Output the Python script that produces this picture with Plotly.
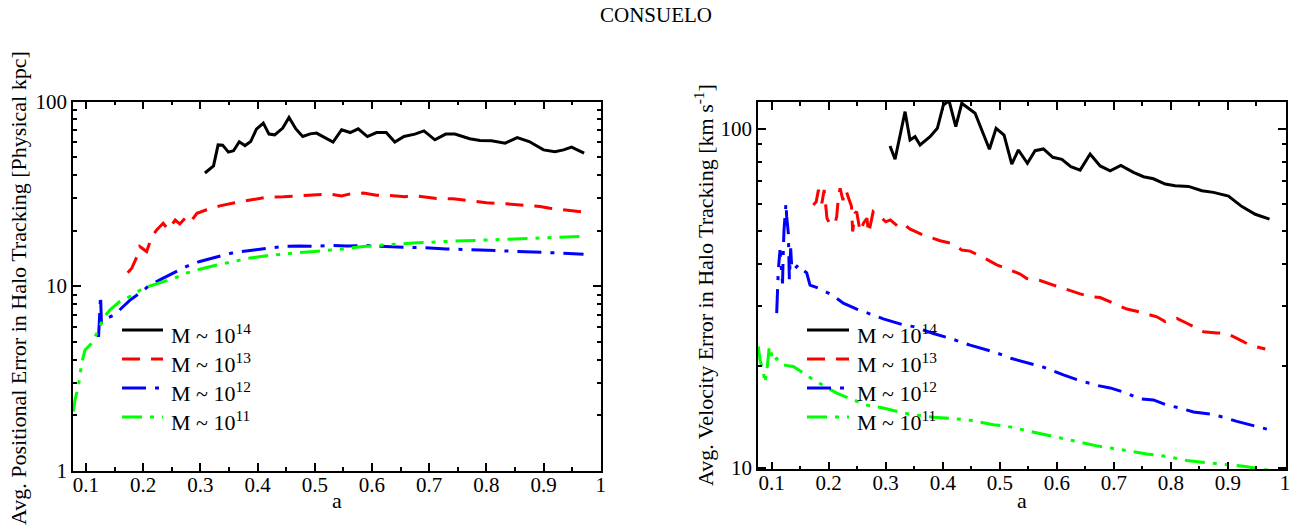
import plotly.graph_objects as go

# ---------------- data ----------------
# Left panel: positional error [physical kpc]
a_pos_14 = [0.308, 0.323, 0.331, 0.339, 0.349, 0.358, 0.368, 0.378, 0.388, 0.398, 0.410, 0.420, 0.430, 0.444, 0.455,
            0.467, 0.479, 0.492, 0.503, 0.518, 0.532, 0.547, 0.562, 0.576, 0.592, 0.608, 0.625, 0.640, 0.656, 0.675,
            0.691, 0.710, 0.729, 0.745, 0.771, 0.789, 0.809, 0.833, 0.854, 0.875, 0.900, 0.920, 0.935, 0.949, 0.971]
pos_14 = [41.0, 44.8, 58.2, 58.0, 53.2, 54.1, 60.5, 57.7, 60.7, 70.9, 76.4, 66.6, 66.0, 71.8, 81.9,
          71.0, 64.6, 66.8, 67.4, 63.8, 60.3, 70.3, 67.9, 71.1, 64.6, 67.9, 67.9, 60.3, 64.6, 66.6,
          69.3, 62.0, 66.6, 66.6, 62.8, 61.5, 61.3, 59.5, 63.8, 60.7, 54.7, 53.5, 54.7, 56.6, 52.5]

a_pos_13 = [0.173, 0.180, 0.189, 0.194, 0.206, 0.215, 0.224, 0.235, 0.244, 0.256, 0.264, 0.273, 0.282, 0.294, 0.311,
            0.334, 0.358, 0.387, 0.416, 0.445, 0.474, 0.492, 0.509, 0.527, 0.547, 0.562, 0.585, 0.608, 0.637, 0.658,
            0.672, 0.693, 0.713, 0.742, 0.771, 0.800, 0.835, 0.859, 0.894, 0.911, 0.929, 0.946, 0.970]
pos_13 = [11.8, 12.5, 14.4, 16.4, 15.4, 18.5, 20.2, 21.9, 20.2, 22.8, 21.7, 23.3, 22.1, 24.8, 25.9,
          27.2, 28.2, 29.3, 30.3, 30.5, 30.8, 31.2, 31.2, 31.5, 30.8, 31.6, 31.9, 31.1, 30.9, 30.5,
          30.9, 30.3, 29.8, 29.7, 28.9, 28.3, 27.9, 27.5, 27.0, 26.4, 26.1, 25.7, 25.2]

a_pos_12 = [0.122, 0.124, 0.1255, 0.127, 0.133, 0.150, 0.165, 0.177, 0.194, 0.212, 0.229, 0.253, 0.276, 0.299, 0.329,
            0.358, 0.387, 0.416, 0.445, 0.474, 0.498, 0.527, 0.556, 0.585, 0.614, 0.655, 0.701, 0.730, 0.789, 0.847,
            0.906, 0.970]
pos_12 = [5.3, 7.0, 8.9, 6.3, 6.6, 7.0, 7.75, 8.4, 9.15, 10.15, 10.8, 11.8, 12.8, 13.6, 14.45,
          15.2, 15.6, 16.05, 16.4, 16.5, 16.4, 16.6, 16.5, 16.6, 16.4, 16.25, 16.1, 15.9, 15.7, 15.5,
          15.2, 14.9]

a_pos_11 = [0.0778, 0.0808, 0.0866, 0.0895, 0.0925, 0.0983, 0.110, 0.1157, 0.1245, 0.130, 0.142, 0.159, 0.177, 0.182,
            0.200, 0.229, 0.253, 0.276, 0.299, 0.329, 0.358, 0.387, 0.416, 0.445, 0.474, 0.500, 0.527, 0.544,
            0.585, 0.632, 0.672, 0.719, 0.766, 0.812, 0.859, 0.905, 0.964]
pos_11 = [2.09, 2.42, 2.85, 3.3, 3.82, 4.51, 4.9, 5.3, 6.03, 6.7, 7.43, 8.24, 8.85, 8.96,
          9.75, 10.4, 11.0, 11.75, 12.35, 13.0, 13.6, 14.2, 14.6, 14.95, 15.2, 15.4, 15.6, 15.85,
          16.4, 16.8, 17.1, 17.4, 17.6, 17.9, 18.1, 18.25, 18.55]

# Right panel: velocity error [km/s]
a_vel_14 = [0.3075, 0.3163, 0.3339, 0.3426, 0.3514, 0.3602, 0.3777, 0.3905, 0.401, 0.411, 0.4228, 0.4333, 0.445,
            0.4567, 0.4684, 0.4818, 0.4935, 0.5075, 0.521, 0.5326, 0.5484, 0.5619, 0.5765, 0.593, 0.6088, 0.6246,
            0.6409, 0.6584, 0.676, 0.6935, 0.7123, 0.7344, 0.752, 0.7695, 0.79, 0.8075, 0.8309, 0.8544, 0.8747,
            0.901, 0.9246, 0.948, 0.973]
vel_14 = [89.1, 81.4, 112.5, 92.8, 94.9, 89.7, 94.9, 100.5, 117.7, 121.2, 101.6, 119.1, 115.1,
          111.3, 99.3, 87.1, 100.5, 96.0, 78.8, 86.7, 79.2, 86.3, 87.3, 82.5, 81.4, 77.4,
          75.6, 84.4, 77.8, 75.3, 78.1, 74.5, 72.3, 71.3, 68.8, 68.0, 67.7, 65.7, 65.0,
          63.4, 59.0, 56.0, 54.2]

a_vel_13 = [0.173, 0.178, 0.182, 0.186, 0.188, 0.192, 0.195, 0.197, 0.203, 0.208, 0.211, 0.214, 0.217, 0.220,
            0.225, 0.230, 0.236, 0.240, 0.242, 0.246, 0.249, 0.255, 0.261, 0.267, 0.270, 0.278, 0.290, 0.300,
            0.308, 0.322, 0.331, 0.343, 0.366, 0.3835, 0.3953, 0.4186, 0.4333, 0.448, 0.4655, 0.4772, 0.4947,
            0.518, 0.5356, 0.5474, 0.5707, 0.594, 0.6175, 0.6409, 0.6584, 0.676, 0.6993, 0.7228, 0.746, 0.7637,
            0.7754, 0.790, 0.8105, 0.828, 0.8572, 0.8807, 0.8982, 0.9158, 0.939, 0.9655]
vel_13 = [59.7, 61.0, 66.1, 62.0, 60.4, 66.1, 59.0, 54.5, 52.1, 52.3, 52.7, 55.1, 63.1, 66.8,
          61.7, 66.1, 61.7, 59.0, 49.8, 56.4, 57.0, 49.8, 52.7, 54.5, 49.2, 57.0, 55.1, 53.2,
          53.9, 51.5, 52.4, 50.6, 48.6, 47.6, 46.8, 45.8, 43.9, 43.6, 42.2, 41.2, 39.7,
          38.3, 37.3, 36.2, 35.7, 34.6, 33.5, 32.6, 32.0, 31.8, 30.6, 29.4, 28.8, 28.2,
          27.9, 27.0, 27.6, 26.7, 25.2, 25.0, 24.9, 24.1, 23.0, 22.4]

a_vel_12 = [0.1088, 0.1116, 0.1146, 0.119, 0.1204, 0.1216, 0.1251, 0.1263, 0.1292, 0.131, 0.1333, 0.1351, 0.1379,
            0.1467, 0.1554, 0.1614, 0.1672, 0.1818, 0.2053, 0.2256, 0.2491, 0.2667, 0.2958, 0.3309, 0.3484, 0.3835,
            0.4128, 0.448, 0.4888, 0.521, 0.5532, 0.5765, 0.6116, 0.6351, 0.6702, 0.6935, 0.7228, 0.7432, 0.7695,
            0.793, 0.8163, 0.8397, 0.869, 0.8923, 0.9158, 0.939, 0.9684]
vel_12 = [28.6, 38.3, 43.9, 35.0, 43.9, 50.3, 60.4, 55.1, 49.2, 36.0, 44.4, 39.2, 38.3,
          39.7, 38.3, 37.6, 34.6, 33.9, 32.4, 30.6, 29.4, 28.7, 27.5, 26.4, 26.1, 24.9,
          24.1, 23.0, 22.0, 21.0, 20.3, 19.8, 18.8, 18.2, 17.5, 17.2, 16.6, 16.0, 15.85,
          15.3, 15.0, 14.6, 14.4, 14.1, 13.7, 13.4, 13.0]

a_vel_11 = [0.0765, 0.0795, 0.0853, 0.0882, 0.0923, 0.0958, 0.0982, 0.1018, 0.1088, 0.1204, 0.1379, 0.1555, 0.173,
            0.1905, 0.214, 0.2374, 0.2667, 0.2958, 0.3309, 0.3544, 0.3835, 0.4128, 0.4479, 0.4888, 0.518, 0.5532,
            0.5825, 0.6116, 0.6409, 0.6702, 0.6993, 0.7344, 0.7579, 0.793, 0.828, 0.8514, 0.8807, 0.904, 0.9274,
            0.9537, 0.974]
vel_11 = [22.8, 20.8, 19.2, 17.8, 19.9, 22.8, 22.3, 20.6, 21.0, 20.1, 19.9, 19.0, 18.2,
          17.5, 16.6, 16.0, 15.3, 15.0, 14.5, 14.3, 14.1, 14.0, 13.8, 13.4, 13.2, 12.8,
          12.5, 12.2, 11.9, 11.6, 11.4, 11.15, 10.98, 10.8, 10.5, 10.4, 10.3, 10.2, 10.1,
          9.95, 9.8]

legend_exponents = ["14", "13", "12", "11"]
x_tick_vals = [0.1, 0.2, 0.3, 0.4, 0.5, 0.6, 0.7, 0.8, 0.9, 1.0]
x_tick_text = ["0.1", "0.2", "0.3", "0.4", "0.5", "0.6", "0.7", "0.8", "0.9", "1"]

for xs, ys in [(a_pos_14, pos_14), (a_pos_13, pos_13), (a_pos_12, pos_12), (a_pos_11, pos_11),
               (a_vel_14, vel_14), (a_vel_13, vel_13), (a_vel_12, vel_12), (a_vel_11, vel_11)]:
    assert len(xs) == len(ys), (len(xs), len(ys))

# ---------------- styling ----------------
W, H = 1311, 529
FONT = "Liberation Serif"
colors = ["#000000", "#ff0000", "#0000ff", "#00ff00"]
dashes = ["solid", "18px,11px", "24px,9px,4px,9px", "20px,8px,4px,8px,4px,8px"]
LW = 3
TICK_FS = 21
TITLE_FS = 22
LEG_FS = 22


def px(x):
    return x / W


def py(y):
    return 1 - y / H


fig = go.Figure()

left_series = [(a_pos_14, pos_14), (a_pos_13, pos_13), (a_pos_12, pos_12), (a_pos_11, pos_11)]
right_series = [(a_vel_14, vel_14), (a_vel_13, vel_13), (a_vel_12, vel_12), (a_vel_11, vel_11)]

for i, (xs, ys) in enumerate(left_series):
    fig.add_trace(go.Scatter(x=xs, y=ys, mode="lines", xaxis="x", yaxis="y", showlegend=False,
                             line=dict(color=colors[i], width=LW, dash=dashes[i])))
for i, (xs, ys) in enumerate(right_series):
    fig.add_trace(go.Scatter(x=xs, y=ys, mode="lines", xaxis="x2", yaxis="y2", showlegend=False,
                             line=dict(color=colors[i], width=LW, dash=dashes[i])))

common_axis = dict(
    showgrid=False, zeroline=False, showline=True, linecolor="black", linewidth=1.5,
    mirror="allticks", ticks="inside", ticklen=8, tickwidth=1.5, tickcolor="black",
    tickfont=dict(family=FONT, size=TICK_FS, color="black"), automargin=False,
    ticklabeloverflow="allow",
)

xcommon = dict(common_axis, tickmode="array", tickvals=x_tick_vals, ticktext=x_tick_text,
               ticklabelstandoff=-6,
               minor=dict(ticks="inside", ticklen=4, tickwidth=1.5, tickcolor="black", dtick=0.05, tick0=0.05))
ycommon = dict(common_axis, type="log", tickmode="array",
               minor=dict(ticks="inside", ticklen=4, tickwidth=1.5, tickcolor="black", dtick="D1"))

fig.update_layout(
    width=W, height=H, template="none",
    paper_bgcolor="white", plot_bgcolor="white",
    margin=dict(l=0, r=0, t=0, b=0),
    showlegend=False,
    font=dict(family=FONT, size=20, color="black"),
    xaxis=dict(xcommon, domain=[px(73), px(601)], range=[0.0773, 1.0005], anchor="y"),
    yaxis=dict(ycommon, domain=[py(470.7), py(101.5)], range=[0, 2], anchor="x",
               tickvals=[1, 10, 100], ticktext=["1", "10", "100"]),
    xaxis2=dict(xcommon, domain=[px(758), px(1285.5)], range=[0.076, 1.001], anchor="y2"),
    yaxis2=dict(ycommon, domain=[py(469.3), py(102)], range=[0.9953, 2.0797], anchor="x2",
                tickvals=[10, 100], ticktext=["10", "100"]),
)

annotations = [
    dict(text="CONSUELO", x=0.5, y=py(15), xref="paper", yref="paper", showarrow=False,
         font=dict(family=FONT, size=21), xanchor="center", yanchor="middle"),
    dict(text="Avg. Positional Error in Halo Tracking [Physical kpc]", x=px(18), y=py(288),
         xref="paper", yref="paper", showarrow=False, textangle=-90,
         font=dict(family=FONT, size=TITLE_FS), xanchor="center", yanchor="middle"),
    dict(text="Avg. Velocity Error in Halo Tracking [km s<sup>-1</sup>]", x=px(704), y=py(285),
         xref="paper", yref="paper", showarrow=False, textangle=-90,
         font=dict(family=FONT, size=TITLE_FS), xanchor="center", yanchor="middle"),
    dict(text="a", x=px(336.5), y=py(500), xref="paper", yref="paper", showarrow=False,
         font=dict(family=FONT, size=TITLE_FS), xanchor="center", yanchor="middle"),
    dict(text="a", x=px(1021.5), y=py(500), xref="paper", yref="paper", showarrow=False,
         font=dict(family=FONT, size=TITLE_FS), xanchor="center", yanchor="middle"),
]

shapes = []
row_y = [330, 359, 388, 417]
for (lx0, lx1, tx) in [(122, 163, 169), (807, 849, 855)]:
    for i, ry in enumerate(row_y):
        shapes.append(dict(type="line", xref="paper", yref="paper", x0=px(lx0), x1=px(lx1),
                           y0=py(ry), y1=py(ry), line=dict(color=colors[i], width=LW, dash=dashes[i])))
        annotations.append(dict(text="M ~ 10<sup>%s</sup>" % legend_exponents[i], x=px(tx), y=py(ry + 4),
                                xref="paper", yref="paper", showarrow=False, xanchor="left", yanchor="middle",
                                font=dict(family=FONT, size=LEG_FS)))

fig.update_layout(annotations=annotations, shapes=shapes)
fig.write_html("out.html")
